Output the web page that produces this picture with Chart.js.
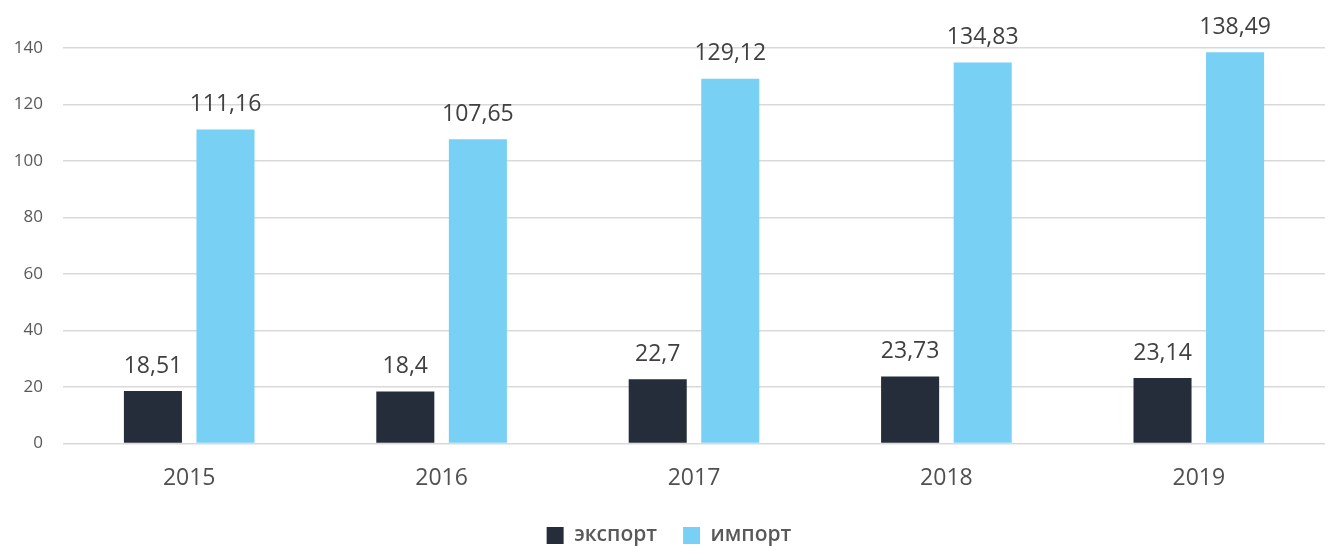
<!DOCTYPE html>
<html>
<head>
<meta charset="utf-8">
<script src="https://cdn.jsdelivr.net/npm/chart.js@4"></script>
<style>
  html, body { margin: 0; padding: 0; background: #fff; }
  #wrap { width: 1331px; height: 547px; }
</style>
</head>
<body>
<div id="wrap"><canvas id="myBar"></canvas></div>
<script>
var years = ['2015', '2016', '2017', '2018', '2019'];
var exportVals = [18.51, 18.4, 22.7, 23.73, 23.14];
var importVals = [111.16, 107.65, 129.12, 134.83, 138.49];
var yTicks = [0, 20, 40, 60, 80, 100, 120, 140];

// labels above each bar, comma as decimal mark
var barLabels = {
  id: 'barLabels',
  afterDatasetsDraw: function(chart) {
    var c = chart.ctx;
    c.save();
    c.font = '23px "Open Sans"';
    c.fillStyle = '#404040';
    c.textAlign = 'center';
    c.textBaseline = 'middle';
    chart.data.datasets.forEach(function(ds, i) {
      chart.getDatasetMeta(i).data.forEach(function(bar, j) {
        var txt = String(ds.data[j]).replace('.', ',');
        c.fillText(txt, bar.x, bar.y - 25);
      });
    });
    c.restore();
  }
};

var chart = new Chart(myBar, {
  type: 'bar',
  data: {
    labels: years,
    datasets: [{
      label: 'экспорт',
      data: exportVals,
      backgroundColor: '#252d3a'
    }, {
      label: 'импорт',
      data: importVals,
      backgroundColor: '#78d0f5'
    }]
  },
  options: {
    responsive: true,
    maintainAspectRatio: false,
    animation: false,
    categoryPercentage: 0.575,
    barPercentage: 0.8,
    layout: { padding: { top: 48, right: 6, left: 13, bottom: -9 } },
    plugins: {
      legend: {
        position: 'bottom',
        labels: {
          font: { family: 'Open Sans', size: 21, weight: 600 },
          color: '#595959',
          boxWidth: 17,
          boxHeight: 17,
          padding: 26
        }
      },
      tooltip: { enabled: false }
    },
    scales: {
      x: {
        grid: { display: false },
        border: { display: false },
        ticks: { font: { family: 'Open Sans', size: 23 }, color: '#505050', padding: 13 },
        afterFit: function(s) { s.height = s.height - 6; }
      },
      y: {
        min: 0,
        max: 140,
        afterBuildTicks: function(axis) {
          axis.ticks = yTicks.map(function(v) { return { value: v }; });
        },
        afterFit: function(s) { s.width = 50; },
        grid: { color: '#d9d9d9', lineWidth: 1.5, drawTicks: false },
        border: { display: false },
        ticks: { font: { family: 'Open Sans', size: 17 }, color: '#595959', padding: 20 }
      }
    }
  },
  plugins: [barLabels]
});
</script>
</body>
</html>
